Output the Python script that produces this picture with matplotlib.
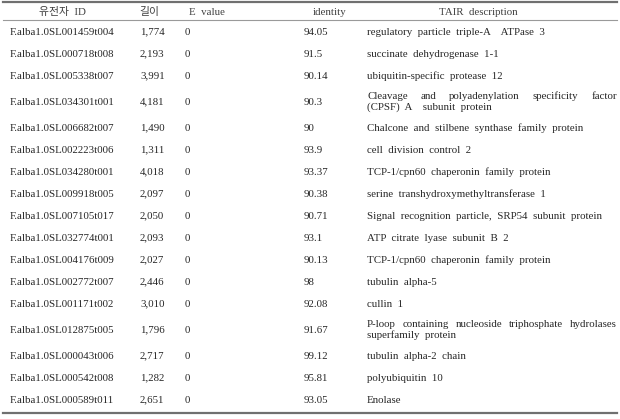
import matplotlib
matplotlib.use("Agg")
import matplotlib.pyplot as plt

plt.rcParams['font.family'] = ['Liberation Serif', 'Noto Sans CJK KR']

headers = ["유전자 ID", "길이", "E value", "identity", "TAIR description"]

gene_ids = [
    "F.alba1.0SL001459t004", "F.alba1.0SL000718t008", "F.alba1.0SL005338t007",
    "F.alba1.0SL034301t001", "F.alba1.0SL006682t007", "F.alba1.0SL002223t006",
    "F.alba1.0SL034280t001", "F.alba1.0SL009918t005", "F.alba1.0SL007105t017",
    "F.alba1.0SL032774t001", "F.alba1.0SL004176t009", "F.alba1.0SL002772t007",
    "F.alba1.0SL001171t002", "F.alba1.0SL012875t005", "F.alba1.0SL000043t006",
    "F.alba1.0SL000542t008", "F.alba1.0SL000589t011",
]
lengths = ["1,774", "2,193", "3,991", "4,181", "1,490", "1,311", "4,018", "2,097",
           "2,050", "2,093", "2,027", "2,446", "3,010", "1,796", "2,717", "1,282", "2,651"]
evalues = ["0"] * 17
identity = ["94.05", "91.5", "90.14", "90.3", "90", "93.9", "93.37", "90.38",
            "90.71", "93.1", "90.13", "98", "92.08", "91.67", "99.12", "95.81", "93.05"]
descriptions = [
    "regulatory particle triple-A  ATPase 3",
    "succinate dehydrogenase 1-1",
    "ubiquitin-specific protease 12",
    "Cleavage and polyadenylation specificity factor\n(CPSF) A  subunit protein",
    "Chalcone and stilbene synthase family protein",
    "cell division control 2",
    "TCP-1/cpn60 chaperonin family protein",
    "serine transhydroxymethyltransferase 1",
    "Signal recognition particle, SRP54 subunit protein",
    "ATP citrate lyase subunit B 2",
    "TCP-1/cpn60 chaperonin family protein",
    "tubulin alpha-5",
    "cullin 1",
    "P-loop containing nucleoside triphosphate hydrolases\nsuperfamily protein",
    "tubulin alpha-2 chain",
    "polyubiquitin 10",
    "Enolase",
]

W, H = 620, 419
fig = plt.figure(figsize=(W / 100, H / 100), dpi=100)
ax = fig.add_axes([0, 0, 1, 1])
ax.set_xlim(0, W)
ax.set_ylim(H, 0)
ax.axis('off')

txt = '#262626'
fs = 7.8
col_left = [10, 140, 185, 304, 367]
head_cx = [62, 149, 207, 330, 478]
desc_right = 617
base_off = 3.2  # baseline sits this far below the row centre


def wide(s):
    # the source typesetting uses broad word spaces
    return s.replace(' ', '  ')


def put(x, y, s, ha='left', color=txt):
    return ax.text(x, y + base_off, s, ha=ha, va='baseline', fontsize=fs, color=color)


# table rules
ax.plot([3, 617], [2.5, 2.5], color='#707070', lw=1.6)
ax.plot([3, 617], [20.5, 20.5], color='#9a9a9a', lw=0.8)

for cx, h in zip(head_cx, headers):
    put(cx, 11.5, wide(h), ha='center', color='#404040')

renderer = fig.canvas.get_renderer()


def justify(line, x0, x1, y):
    words = line.split()
    widths = []
    for w in words:
        t = ax.text(0, 0, w, fontsize=fs)
        widths.append(t.get_window_extent(renderer).width)
        t.remove()
    gap = (x1 - x0 - sum(widths)) / (len(words) - 1)
    x = x0
    for w, wd in zip(words, widths):
        put(x, y, w)
        x += wd + gap


y = 20.5
line_gap = 10.5
for gid, ln, ev, idt, desc in zip(gene_ids, lengths, evalues, identity, descriptions):
    lines = desc.split('\n')
    h = 22 + 8 * (len(lines) - 1)
    cy = y + h / 2
    for x, v in zip(col_left[:4], [gid, ln, ev, idt]):
        put(x, cy, v)
    if len(lines) == 1:
        put(col_left[4], cy, wide(desc))
    else:
        top = cy - line_gap * (len(lines) - 1) / 2
        for i, l in enumerate(lines):
            ly = top + i * line_gap
            if i < len(lines) - 1:
                justify(l, col_left[4], desc_right, ly)
            else:
                put(col_left[4], ly, wide(l))
    y += h

ax.plot([3, 617], [y + 2, y + 2], color='#707070', lw=1.6)

fig.savefig('out.png', dpi=100)
